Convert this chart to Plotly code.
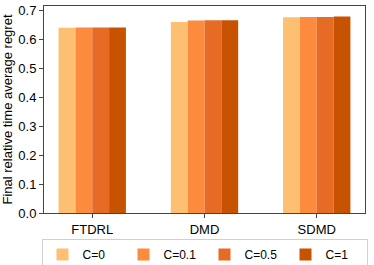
import plotly.graph_objects as go

categories = ["FTDRL", "DMD", "SDMD"]
series_names = ["C=0", "C=0.1", "C=0.5", "C=1"]
values_c0 = [0.639, 0.659, 0.675]
values_c01 = [0.640, 0.664, 0.676]
values_c05 = [0.640, 0.665, 0.676]
values_c1 = [0.640, 0.665, 0.678]
colors = ["#FDBF71", "#FD8B3D", "#E66B24", "#C75300"]
yticks = [0.0, 0.1, 0.2, 0.3, 0.4, 0.5, 0.6, 0.7]

fig = go.Figure()
for name, vals, col in zip(series_names, [values_c0, values_c01, values_c05, values_c1], colors):
    fig.add_trace(go.Bar(x=categories, y=vals, name=name, marker=dict(color=col, line=dict(width=0))))

fig.update_layout(
    width=374, height=265,
    margin=dict(l=44, r=9, t=6, b=52, autoexpand=False),
    paper_bgcolor="white", plot_bgcolor="white",
    barmode="group", bargap=0.4, bargroupgap=0,
    font=dict(family="Liberation Sans, Arial, sans-serif", size=13, color="black"),
    legend=dict(orientation="h", x=0.5, xanchor="center", y=-0.125, yanchor="top",
                bordercolor="#d0d0d0", borderwidth=1, font=dict(size=12),
                entrywidth=36, entrywidthmode="pixels", itemwidth=30),
    showlegend=True,
)
fig.update_xaxes(range=[-0.43, 2.43], showline=True, linecolor="#444", linewidth=1, mirror=True,
                 ticks="outside", ticklen=4, tickcolor="#444", showgrid=False, automargin=False)
fig.update_yaxes(range=[0, 0.714], tickvals=yticks, ticktext=[f"{v:.1f}" for v in yticks],
                 showline=True, linecolor="#444", linewidth=1, mirror=True, automargin=False,
                 ticks="outside", ticklen=4, tickcolor="#444", showgrid=False, zeroline=False,
                 title=dict(text="Final relative time average regret", font=dict(size=13), standoff=2))

fig.write_html("out.html", config={"displayModeBar": False},
               post_script="document.body.style.margin='0';")
